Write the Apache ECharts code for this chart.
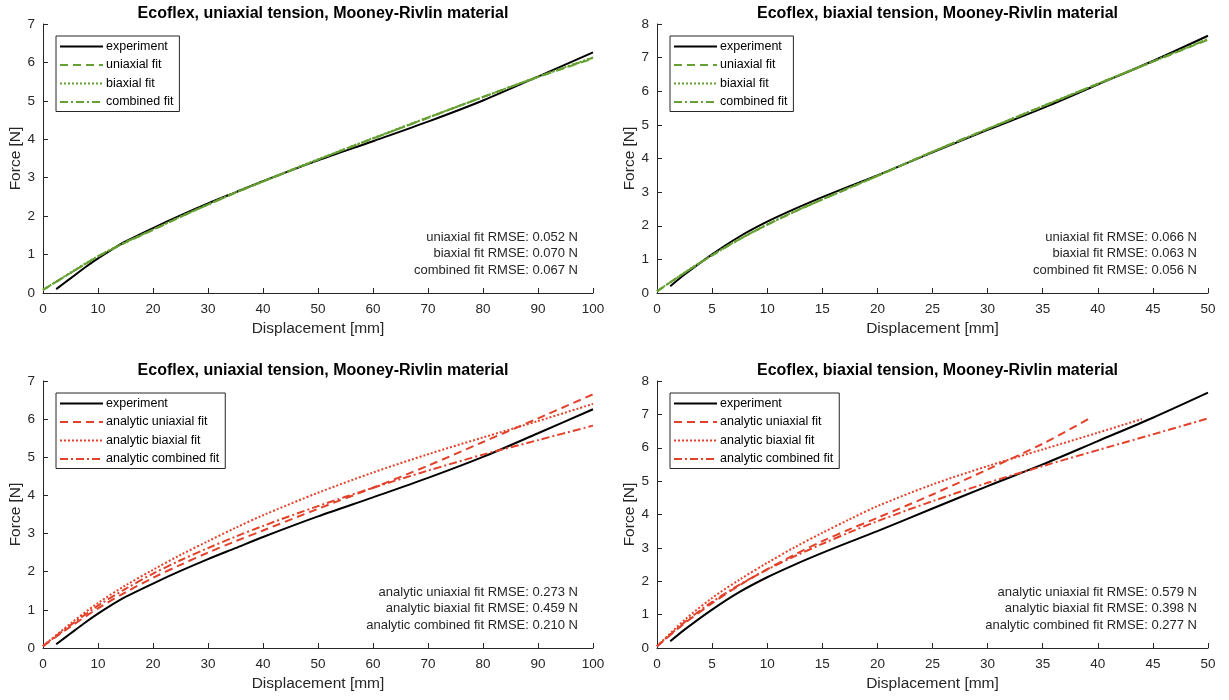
<!DOCTYPE html>
<html>
<head>
<meta charset="utf-8">
<script src="https://cdn.jsdelivr.net/npm/echarts@6/dist/echarts.min.js"></script>
<style>
  html, body { margin: 0; padding: 0; background: #fff; }
  #chart { width: 1229px; height: 700px; }
</style>
</head>
<body>
<div id="chart"></div>
<script>
// uniaxial tension test (0-100 mm)
const dispExpUni = [2.4, 5, 7.5, 10, 12.5, 15, 20, 25, 30, 35, 40, 50, 60, 70, 80, 90, 100]
const forceExpUni = [0.1, 0.38, 0.65, 0.9, 1.13, 1.34, 1.69, 2.02, 2.33, 2.62, 2.91, 3.45, 3.95, 4.46, 5.01, 5.63, 6.26]
const dispFitUni = [0, 5, 10, 15, 20, 25, 30, 35, 40, 50, 60, 70, 80, 90, 100]
const uniaxialFitUni = [0.08, 0.52, 0.95, 1.31, 1.64, 1.98, 2.3, 2.61, 2.9, 3.47, 4.02, 4.56, 5.1, 5.62, 6.1]
const biaxialFitUni = [0.08, 0.53, 0.96, 1.32, 1.65, 1.99, 2.31, 2.62, 2.91, 3.48, 4.03, 4.57, 5.1, 5.63, 6.13]
const combinedFitUni = [0.08, 0.52, 0.95, 1.32, 1.65, 1.98, 2.3, 2.61, 2.9, 3.47, 4.02, 4.56, 5.1, 5.62, 6.12]
const analyticUniaxialUni = [0.05, 0.56, 1.04, 1.46, 1.84, 2.18, 2.5, 2.8, 3.08, 3.65, 4.2, 4.78, 5.4, 6.02, 6.65]
const analyticBiaxialUni = [0.05, 0.64, 1.18, 1.64, 2.05, 2.44, 2.8, 3.15, 3.48, 4.07, 4.6, 5.08, 5.52, 5.95, 6.4]
const analyticCombinedUni = [0.05, 0.6, 1.11, 1.55, 1.95, 2.3, 2.62, 2.92, 3.2, 3.72, 4.2, 4.65, 5.07, 5.45, 5.83]

// biaxial tension test (0-50 mm)
const dispExpBi = [1.2, 2.5, 5, 7.5, 10, 12.5, 15, 17.5, 20, 25, 30, 35, 40, 45, 50]
const forceExpBi = [0.2, 0.55, 1.15, 1.68, 2.12, 2.5, 2.85, 3.18, 3.5, 4.18, 4.85, 5.5, 6.2, 6.9, 7.65]
const dispFitBi = [0, 2.5, 5, 7.5, 10, 12.5, 15, 17.5, 20, 25, 30, 35, 40, 45, 50]
const uniaxialFitBi = [0.05, 0.6, 1.12, 1.6, 2.03, 2.42, 2.78, 3.13, 3.48, 4.2, 4.88, 5.55, 6.22, 6.88, 7.53]
const biaxialFitBi = [0.05, 0.61, 1.13, 1.61, 2.04, 2.43, 2.79, 3.14, 3.49, 4.2, 4.88, 5.56, 6.22, 6.89, 7.56]
const combinedFitBi = [0.05, 0.6, 1.12, 1.6, 2.03, 2.42, 2.78, 3.13, 3.48, 4.2, 4.88, 5.55, 6.22, 6.88, 7.55]
const dispAnaUniaxialBi = [0, 2.5, 5, 7.5, 10, 12.5, 15, 17.5, 20, 25, 30, 35, 39.3]
const analyticUniaxialBi = [0.05, 0.74, 1.34, 1.88, 2.36, 2.8, 3.2, 3.56, 3.9, 4.6, 5.35, 6.12, 6.89]
const dispAnaBiaxialBi = [0, 2.5, 5, 7.5, 10, 12.5, 15, 17.5, 20, 25, 30, 35, 40, 44]
const analyticBiaxialBi = [0.05, 0.84, 1.5, 2.05, 2.55, 3.02, 3.45, 3.86, 4.25, 4.9, 5.45, 5.95, 6.45, 6.86]
const dispAnaCombinedBi = [0, 2.5, 5, 7.5, 10, 12.5, 15, 17.5, 20, 25, 30, 35, 40, 45, 50]
const analyticCombinedBi = [0.05, 0.77, 1.38, 1.9, 2.35, 2.75, 3.12, 3.47, 3.8, 4.4, 4.95, 5.45, 5.93, 6.4, 6.88]

const rmseUniFit = ['uniaxial fit RMSE: 0.052 N', 'biaxial fit RMSE: 0.070 N', 'combined fit RMSE: 0.067 N']
const rmseBiFit = ['uniaxial fit RMSE: 0.066 N', 'biaxial fit RMSE: 0.063 N', 'combined fit RMSE: 0.056 N']
const rmseUniAna = ['analytic uniaxial fit RMSE: 0.273 N', 'analytic biaxial fit RMSE: 0.459 N', 'analytic combined fit RMSE: 0.210 N']
const rmseBiAna = ['analytic uniaxial fit RMSE: 0.579 N', 'analytic biaxial fit RMSE: 0.398 N', 'analytic combined fit RMSE: 0.277 N']

const titleUni = 'Ecoflex, uniaxial tension, Mooney-Rivlin material'
const titleBi = 'Ecoflex, biaxial tension, Mooney-Rivlin material'

const FONT = '"Liberation Sans", Arial, Helvetica, sans-serif'
const AXIS_COLOR = '#262626'
const GREEN = '#66a032'
const RED = '#e2412a'

const zip = (xs, ys) => xs.map((x, i) => [x, ys[i]])

// grid boxes: [left, top, width, height]
const boxes = [
	[43, 24, 550, 269],
	[657, 24, 551, 269],
	[43, 381, 550, 267],
	[657, 381, 551, 267]
]

const makeXAxis = (idx, max, interval) => ({
	gridIndex: idx,
	type: 'value',
	min: 0,
	max: max,
	interval: interval,
	name: 'Displacement [mm]',
	nameLocation: 'middle',
	nameGap: 28,
	nameTextStyle: { fontFamily: FONT, fontSize: 15.5, color: AXIS_COLOR },
	axisLine: { onZero: false, lineStyle: { color: AXIS_COLOR } },
	axisTick: { inside: true, length: 5, lineStyle: { color: AXIS_COLOR } },
	axisLabel: { fontFamily: FONT, fontSize: 13.5, color: AXIS_COLOR, margin: 9 },
	splitLine: { show: false }
})

const makeYAxis = (idx, max) => ({
	gridIndex: idx,
	type: 'value',
	min: 0,
	max: max,
	interval: 1,
	name: 'Force [N]',
	nameLocation: 'middle',
	nameGap: 19,
	nameTextStyle: { fontFamily: FONT, fontSize: 15.5, color: AXIS_COLOR },
	axisLine: { show: true, onZero: false, lineStyle: { color: AXIS_COLOR } },
	axisTick: { show: true, inside: true, length: 5, lineStyle: { color: AXIS_COLOR } },
	axisLabel: { fontFamily: FONT, fontSize: 13.5, color: AXIS_COLOR, margin: 8 },
	splitLine: { show: false }
})

const dashTypes = {
	solid: 'solid',
	dashed: [8, 5],
	dotted: [2, 2],
	dashdot: [8, 3, 2, 3]
}

const line = (name, idx, data, color, type) => ({
	name: name,
	type: 'line',
	xAxisIndex: idx,
	yAxisIndex: idx,
	data: data,
	showSymbol: false,
	symbol: 'none',
	smooth: 0.3,
	animation: false,
	lineStyle: { color: color, width: 2, type: dashTypes[type] },
	itemStyle: { color: color }
})

const makeTitle = (idx, text) => ({
	text: text,
	left: boxes[idx][0] + boxes[idx][2] / 2,
	top: boxes[idx][1] - 23,
	textAlign: 'center',
	textStyle: { fontFamily: FONT, fontSize: 16, fontWeight: 'bold', color: '#000' }
})

const makeLegend = (idx, names) => ({
	data: names,
	orient: 'vertical',
	left: boxes[idx][0] + 13,
	top: boxes[idx][1] + 12,
	itemWidth: 43,
	itemHeight: 12,
	itemGap: 5.5,
	padding: [4, 6, 3, 3],
	borderColor: AXIS_COLOR,
	borderWidth: 1,
	backgroundColor: '#fff',
	selectedMode: false,
	itemStyle: { opacity: 0 },
	textStyle: { fontFamily: FONT, fontSize: 12.5, color: '#000', padding: [0, 0, 0, -2] }
})

const makeNote = (idx, lines, rightEdge) => ({
	type: 'text',
	x: rightEdge,
	y: boxes[idx][1] + boxes[idx][3] - 64,
	style: {
		text: lines.join('\n'),
		textAlign: 'right',
		fontFamily: FONT,
		fontSize: 13,
		lineHeight: 16.5,
		fill: AXIS_COLOR
	}
})

const chart = echarts.init(document.getElementById('chart'))
const option = {
	backgroundColor: '#fff',
	animation: false,
	title: [makeTitle(0, titleUni), makeTitle(1, titleBi), makeTitle(2, titleUni), makeTitle(3, titleBi)],
	grid: boxes.map(b => ({ left: b[0], top: b[1], width: b[2], height: b[3] })),
	xAxis: [makeXAxis(0, 100, 10), makeXAxis(1, 50, 5), makeXAxis(2, 100, 10), makeXAxis(3, 50, 5)],
	yAxis: [makeYAxis(0, 7), makeYAxis(1, 8), makeYAxis(2, 7), makeYAxis(3, 8)],
	legend: [
		makeLegend(0, ['experiment', 'uniaxial fit', 'biaxial fit', 'combined fit']),
		makeLegend(1, ['experiment', 'uniaxial fit', 'biaxial fit', 'combined fit']),
		makeLegend(2, ['experiment', 'analytic uniaxial fit', 'analytic biaxial fit', 'analytic combined fit']),
		makeLegend(3, ['experiment', 'analytic uniaxial fit', 'analytic biaxial fit', 'analytic combined fit'])
	],
	graphic: [
		makeNote(0, rmseUniFit, 578),
		makeNote(1, rmseBiFit, 1197),
		makeNote(2, rmseUniAna, 578),
		makeNote(3, rmseBiAna, 1197)
	],
	series: [
		line('experiment', 0, zip(dispExpUni, forceExpUni), '#000', 'solid'),
		line('uniaxial fit', 0, zip(dispFitUni, uniaxialFitUni), GREEN, 'dashed'),
		line('biaxial fit', 0, zip(dispFitUni, biaxialFitUni), GREEN, 'dotted'),
		line('combined fit', 0, zip(dispFitUni, combinedFitUni), GREEN, 'dashdot'),

		line('experiment', 1, zip(dispExpBi, forceExpBi), '#000', 'solid'),
		line('uniaxial fit', 1, zip(dispFitBi, uniaxialFitBi), GREEN, 'dashed'),
		line('biaxial fit', 1, zip(dispFitBi, biaxialFitBi), GREEN, 'dotted'),
		line('combined fit', 1, zip(dispFitBi, combinedFitBi), GREEN, 'dashdot'),

		line('experiment', 2, zip(dispExpUni, forceExpUni), '#000', 'solid'),
		line('analytic uniaxial fit', 2, zip(dispFitUni, analyticUniaxialUni), RED, 'dashed'),
		line('analytic biaxial fit', 2, zip(dispFitUni, analyticBiaxialUni), RED, 'dotted'),
		line('analytic combined fit', 2, zip(dispFitUni, analyticCombinedUni), RED, 'dashdot'),

		line('experiment', 3, zip(dispExpBi, forceExpBi), '#000', 'solid'),
		line('analytic uniaxial fit', 3, zip(dispAnaUniaxialBi, analyticUniaxialBi), RED, 'dashed'),
		line('analytic biaxial fit', 3, zip(dispAnaBiaxialBi, analyticBiaxialBi), RED, 'dotted'),
		line('analytic combined fit', 3, zip(dispAnaCombinedBi, analyticCombinedBi), RED, 'dashdot')
	]
}
chart.setOption(option)
</script>
</body>
</html>
